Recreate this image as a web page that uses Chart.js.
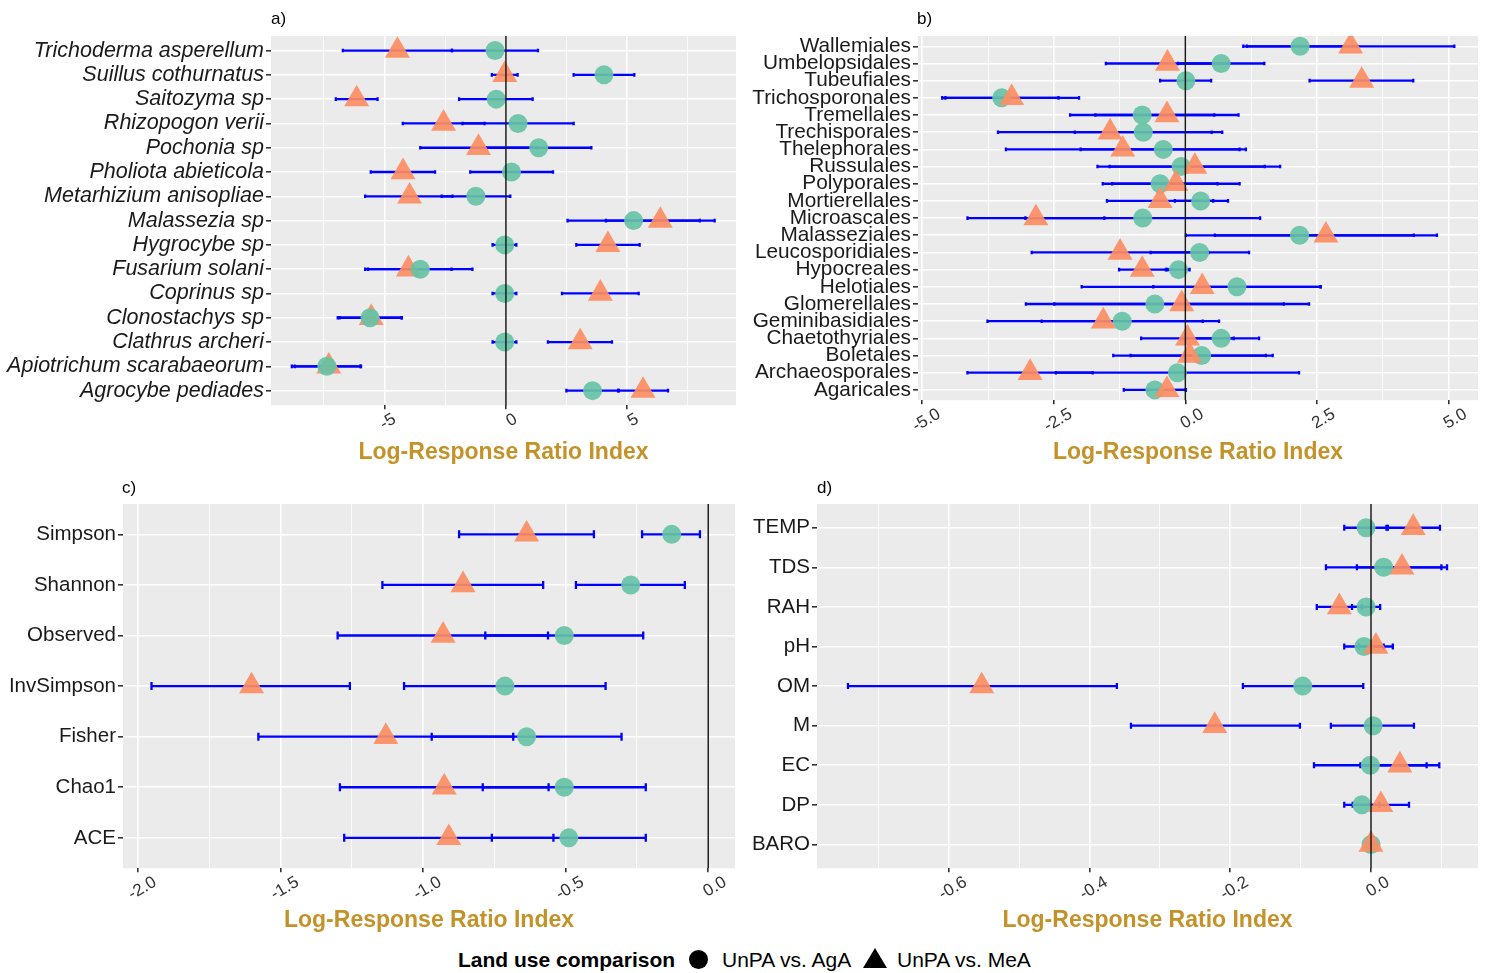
<!DOCTYPE html>
<html>
<head>
<meta charset="utf-8">
<title>Log-Response Ratio Index by land use comparison</title>
<script src="https://cdn.jsdelivr.net/npm/chart.js@4.4.1/dist/chart.umd.min.js"></script>
<style>
  html, body { margin: 0; padding: 0; background: #ffffff; }
  body { width: 1485px; height: 973px; position: relative; overflow: hidden;
         font-family: "Liberation Sans", Arial, sans-serif; color: #000; }
  canvas { position: absolute; display: block; }
  .tag { position: absolute; font-size: 17px; line-height: 17px; color: #000; }
  .leg { position: absolute; font-size: 21px; line-height: 24px; white-space: nowrap; color: #000; }
  .leg.title { font-weight: bold; }
  .sym-circle { position: absolute; width: 19px; height: 19px; border-radius: 50%; background: #000; }
  .sym-tri { position: absolute; width: 24px; height: 20px; background: #000;
             clip-path: polygon(50% 0, 100% 100%, 0 100%); }
</style>
</head>
<body>
<canvas id="pa" width="742" height="470" style="left:0;top:0;width:742px;height:470px"></canvas>
<canvas id="pb" width="743" height="470" style="left:742px;top:0;width:743px;height:470px"></canvas>
<canvas id="pc" width="742" height="470" style="left:0;top:470px;width:742px;height:470px"></canvas>
<canvas id="pd" width="743" height="470" style="left:742px;top:470px;width:743px;height:470px"></canvas>

<div class="tag" style="left:271px;top:10px">a)</div>
<div class="tag" style="left:917px;top:10px">b)</div>
<div class="tag" style="left:122px;top:479px">c)</div>
<div class="tag" style="left:817px;top:479px">d)</div>

<div class="leg title" style="left:458px;top:948px">Land use comparison</div>
<div class="sym-circle" style="left:689px;top:950px"></div>
<div class="leg" style="left:722px;top:948px">UnPA vs. AgA</div>
<div class="sym-tri" style="left:863px;top:948px"></div>
<div class="leg" style="left:897px;top:948px">UnPA vs. MeA</div>

<script>
// ---------- a) fungal species ----------
const speciesNames = ["Trichoderma asperellum", "Suillus cothurnatus", "Saitozyma sp", "Rhizopogon verii",
  "Pochonia sp", "Pholiota abieticola", "Metarhizium anisopliae", "Malassezia sp", "Hygrocybe sp",
  "Fusarium solani", "Coprinus sp", "Clonostachys sp", "Clathrus archeri", "Apiotrichum scarabaeorum",
  "Agrocybe pediades"];
const speciesAgA    = [-0.45, 4.04, -0.40, 0.50, 1.35, 0.23, -1.24, 5.26, -0.05, -3.53, -0.05, -5.60, -0.05, -7.38, 3.57];
const speciesAgALo  = [-2.22, 2.79, -1.93, -1.79, -0.82, -1.47, -2.65, 2.54, -0.55, -5.68, -0.55, -6.93, -0.55, -8.82, 2.49];
const speciesAgAHi  = [1.32, 5.29, 1.10, 2.79, 3.52, 1.94, 0.18, 7.99, 0.43, -1.38, 0.43, -4.29, 0.43, -5.97, 4.65];
const speciesMeA    = [-4.47, -0.05, -6.15, -2.57, -1.13, -4.24, -3.97, 6.36, 4.20, -4.02, 3.89, -5.55, 3.06, -7.30, 5.65];
const speciesMeALo  = [-6.72, -0.58, -7.01, -4.25, -3.53, -5.57, -5.80, 4.12, 2.90, -5.80, 2.31, -6.85, 1.73, -8.70, 4.62];
const speciesMeAHi  = [-2.23, 0.48, -5.29, -0.88, 1.27, -2.92, -2.20, 8.60, 5.51, -2.24, 5.47, -4.30, 4.37, -6.00, 6.68];
const speciesTicks  = [-7.5, -5, -2.5, 0, 2.5, 5, 7.5];

// ---------- b) fungal orders ----------
const orderNames = ["Wallemiales", "Umbelopsidales", "Tubeufiales", "Trichosporonales", "Tremellales",
  "Trechisporales", "Thelephorales", "Russulales", "Polyporales", "Mortierellales", "Microascales",
  "Malasseziales", "Leucosporidiales", "Hypocreales", "Helotiales", "Glomerellales", "Geminibasidiales",
  "Chaetothyriales", "Boletales", "Archaeosporales", "Agaricales"];
const orderAgA   = [2.18, 0.68, 0.01, -3.49, -0.82, -0.80, -0.42, -0.08, -0.48, 0.29, -0.81, 2.17, 0.27, -0.13, 0.98, -0.58, -1.20, 0.68, 0.31, -0.15, -0.58];
const orderAgALo = [1.10, -0.14, -0.48, -4.62, -2.19, -2.10, -1.99, -1.67, -1.57, -0.20, -3.04, 0.01, -0.66, -0.34, -0.61, -3.03, -2.73, -0.04, -1.04, -2.46, -1.17];
const orderAgAHi = [3.26, 1.50, 0.49, -2.41, 0.55, 0.50, 1.15, 1.51, 0.61, 0.81, 1.42, 4.34, 1.21, 0.08, 2.57, 1.87, 0.33, 1.40, 1.66, 2.16, 0.01];
const orderMeA   = [3.14, -0.34, 3.35, -3.30, -0.35, -1.43, -1.19, 0.18, -0.18, -0.48, -2.84, 2.67, -1.24, -0.82, 0.32, -0.07, -1.56, 0.04, 0.08, -2.95, -0.35];
const orderMeALo = [1.17, -1.51, 2.36, -4.56, -1.71, -3.56, -3.41, -1.44, -1.39, -1.49, -4.14, 0.56, -2.92, -1.26, -1.97, -2.49, -3.76, -0.84, -1.37, -4.14, -0.71];
const orderMeAHi = [5.11, 0.83, 4.33, -2.02, 1.01, 0.70, 1.03, 1.80, 1.03, 0.53, -1.54, 4.78, 0.44, -0.37, 2.57, 2.35, 0.64, 0.92, 1.53, -1.76, 0.01];
const orderTicks = [-5, -3.75, -2.5, -1.25, 0, 1.25, 2.5, 3.75, 5];

// ---------- c) diversity indices ----------
const indexNames = ["Simpson", "Shannon", "Observed", "InvSimpson", "Fisher", "Chao1", "ACE"];
const indexAgA   = [-0.128, -0.272, -0.505, -0.713, -0.637, -0.505, -0.489];
const indexAgALo = [-0.232, -0.464, -0.782, -1.067, -0.970, -0.791, -0.759];
const indexAgAHi = [-0.029, -0.082, -0.228, -0.360, -0.304, -0.219, -0.219];
const indexMeA   = [-0.637, -0.860, -0.930, -1.602, -1.131, -0.926, -0.910];
const indexMeALo = [-0.874, -1.143, -1.300, -1.953, -1.578, -1.292, -1.277];
const indexMeAHi = [-0.401, -0.579, -0.562, -1.257, -0.684, -0.560, -0.543];
const indexTicks = [-2.0, -1.75, -1.5, -1.25, -1.0, -0.75, -0.5, -0.25, 0.0];

// ---------- d) soil and climate variables ----------
const varNames = ["TEMP", "TDS", "RAH", "pH", "OM", "M", "EC", "DP", "BARO"];
const varAgA   = [-0.007, 0.018, -0.007, -0.010, -0.097, 0.003, -0.001, -0.013, 0.000];
const varAgALo = [-0.038, -0.064, -0.027, -0.038, -0.182, -0.057, -0.081, -0.038, -0.003];
const varAgAHi = [0.024, 0.100, 0.013, 0.018, -0.011, 0.061, 0.079, 0.012, 0.003];
const varMeA   = [0.060, 0.044, -0.045, 0.007, -0.553, -0.222, 0.041, 0.014, 0.000];
const varMeALo = [0.022, -0.020, -0.077, -0.017, -0.743, -0.341, -0.015, -0.026, -0.003];
const varMeAHi = [0.098, 0.108, -0.013, 0.031, -0.361, -0.101, 0.097, 0.054, 0.003];
const varTicks = [-0.7, -0.6, -0.5, -0.4, -0.3, -0.2, -0.1, 0.0, 0.1];

const axisTitle = "Log-Response Ratio Index";
const seriesLabels = ["UnPA vs. AgA", "UnPA vs. MeA"];

// ---------- styling ----------
const GREEN = "rgba(102,194,165,0.92)";
const ORANGE = "rgba(252,141,98,0.92)";
const BAR_BLUE = "#0000ff";
const PANEL_BG = "#ebebeb";
const GOLD = "#c39228";

Chart.defaults.font.family = "'Liberation Sans', Arial, sans-serif";

// panel background, error bars under the points, reference line at zero on top
const forestDecor = {
  id: "forestDecor",
  beforeDraw(chart) {
    const a = chart.chartArea, ctx = chart.ctx;
    ctx.save();
    ctx.fillStyle = PANEL_BG;
    ctx.fillRect(a.left, a.top, a.right - a.left, a.bottom - a.top);
    ctx.restore();
  },
  beforeDatasetsDraw(chart) {
    const ctx = chart.ctx, xs = chart.scales.x, ys = chart.scales.y;
    const cap = chart.options.plugins.forestDecor.cap;
    ctx.save();
    ctx.strokeStyle = BAR_BLUE;
    ctx.lineWidth = 2.3;
    chart.data.datasets.forEach(ds => {
      ds.lo.forEach((lo, i) => {
        const y = ys.getPixelForValue(i);
        const x1 = xs.getPixelForValue(lo), x2 = xs.getPixelForValue(ds.hi[i]);
        ctx.beginPath();
        ctx.moveTo(x1, y); ctx.lineTo(x2, y);
        ctx.moveTo(x1, y - cap); ctx.lineTo(x1, y + cap);
        ctx.moveTo(x2, y - cap); ctx.lineTo(x2, y + cap);
        ctx.stroke();
      });
    });
    ctx.restore();
  },
  afterDatasetsDraw(chart) {
    const ctx = chart.ctx, a = chart.chartArea;
    const x0 = chart.scales.x.getPixelForValue(0);
    ctx.save();
    ctx.strokeStyle = "#1a1a1a";
    ctx.lineWidth = 1.5;
    ctx.beginPath();
    ctx.moveTo(x0, a.top); ctx.lineTo(x0, a.bottom);
    ctx.stroke();
    ctx.restore();
  }
};

function buildPanel(id, p) {
  const n = p.names.length;
  const pts = vals => vals.map((v, i) => ({ x: v, y: i }));
  const isMajor = v => Math.abs(v / p.major - Math.round(v / p.major)) < 1e-6;
  const circles = { label: seriesLabels[0], data: pts(p.aga), lo: p.agaLo, hi: p.agaHi,
    pointStyle: "circle", pointRadius: 9.5, backgroundColor: GREEN, borderWidth: 0 };
  const triangles = { label: seriesLabels[1], data: pts(p.mea), lo: p.meaLo, hi: p.meaHi,
    pointStyle: "triangle", pointRadius: 14.4, backgroundColor: ORANGE, borderWidth: 0 };
  // the first dataset is painted last (on top)
  const datasets = p.circlesOnTop ? [circles, triangles] : [triangles, circles];

  return new Chart(document.getElementById(id), {
    type: "scatter",
    data: { datasets },
    options: {
      responsive: false,
      animation: false,
      devicePixelRatio: 1,
      events: [],
      layout: { autoPadding: false,
                padding: { left: 0, right: p.padRight, top: p.padTop, bottom: p.padBottom } },
      plugins: {
        legend: { display: false },
        tooltip: { enabled: false },
        forestDecor: { cap: p.cap }
      },
      scales: {
        x: {
          type: "linear",
          min: p.xmin, max: p.xmax,
          afterBuildTicks: s => { s.ticks = p.ticks.map(v => ({ value: v })); },
          afterFit: s => { s.height = p.xHeight; s.paddingLeft = 0; s.paddingRight = 0; },
          ticks: {
            autoSkip: false, minRotation: 30, maxRotation: 30,
            labelOffset: p.labelShift, padding: 0, color: "#333333",
            font: { size: 17 },
            callback: v => isMajor(v) ? (p.dec ? v.toFixed(p.dec) : String(Math.round(v))) : ""
          },
          grid: {
            color: "#ffffff",
            lineWidth: c => (c.tick && isMajor(c.tick.value)) ? 1.6 : 0.8,
            tickLength: 4,
            tickColor: c => (c.tick && isMajor(c.tick.value)) ? "#333333" : "rgba(0,0,0,0)"
          },
          border: { display: false },
          title: { display: true, text: axisTitle, color: GOLD, padding: 0,
                   font: { size: 23, weight: "bold" } }
        },
        y: {
          type: "linear",
          reverse: true,
          min: -0.6, max: n - 0.4,
          afterBuildTicks: s => { s.ticks = p.names.map((_, i) => ({ value: i })); },
          afterFit: s => { s.width = p.yWidth; s.paddingTop = 0; s.paddingBottom = 0; },
          ticks: {
            autoSkip: false, padding: 2, color: "#1a1a1a",
            font: { size: p.yFont, style: p.italic ? "italic" : "normal" },
            callback: v => p.names[Math.round(v)] || ""
          },
          grid: { color: "#ffffff", lineWidth: 1.6, tickLength: 5, tickColor: "#333333" },
          border: { display: false }
        }
      }
    },
    plugins: [forestDecor]
  });
}

buildPanel("pa", {
  names: speciesNames, aga: speciesAgA, agaLo: speciesAgALo, agaHi: speciesAgAHi,
  mea: speciesMeA, meaLo: speciesMeALo, meaHi: speciesMeAHi,
  ticks: speciesTicks, major: 5, dec: 0, xmin: -9.68, xmax: 9.48, labelShift: 10,
  yWidth: 271, padRight: 6, padTop: 36, xHeight: 60.8, padBottom: 4,
  yFont: 21.5, italic: true, cap: 1.8, circlesOnTop: true
});
buildPanel("pb", {
  names: orderNames, aga: orderAgA, agaLo: orderAgALo, agaHi: orderAgAHi,
  mea: orderMeA, meaLo: orderMeALo, meaHi: orderMeAHi,
  ticks: orderTicks, major: 2.5, dec: 1, xmin: -5.08, xmax: 5.56, labelShift: 17,
  yWidth: 176, padRight: 7, padTop: 36, xHeight: 65.8, padBottom: 4,
  yFont: 20.8, italic: false, cap: 1.8, circlesOnTop: false
});
buildPanel("pc", {
  names: indexNames, aga: indexAgA, agaLo: indexAgALo, agaHi: indexAgAHi,
  mea: indexMeA, meaLo: indexMeALo, meaHi: indexMeAHi,
  ticks: indexTicks, major: 0.5, dec: 1, xmin: -2.053, xmax: 0.094, labelShift: 17,
  yWidth: 123, padRight: 7, padTop: 34, xHeight: 65.8, padBottom: 6,
  yFont: 20.5, italic: false, cap: 4, circlesOnTop: false
});
buildPanel("pd", {
  names: varNames, aga: varAgA, agaLo: varAgALo, agaHi: varAgAHi,
  mea: varMeA, meaLo: varMeALo, meaHi: varMeAHi,
  ticks: varTicks, major: 0.2, dec: 1, xmin: -0.787, xmax: 0.152, labelShift: 17,
  yWidth: 75, padRight: 7, padTop: 34, xHeight: 65.8, padBottom: 6,
  yFont: 20.5, italic: false, cap: 3, circlesOnTop: false
});
</script>
</body>
</html>
